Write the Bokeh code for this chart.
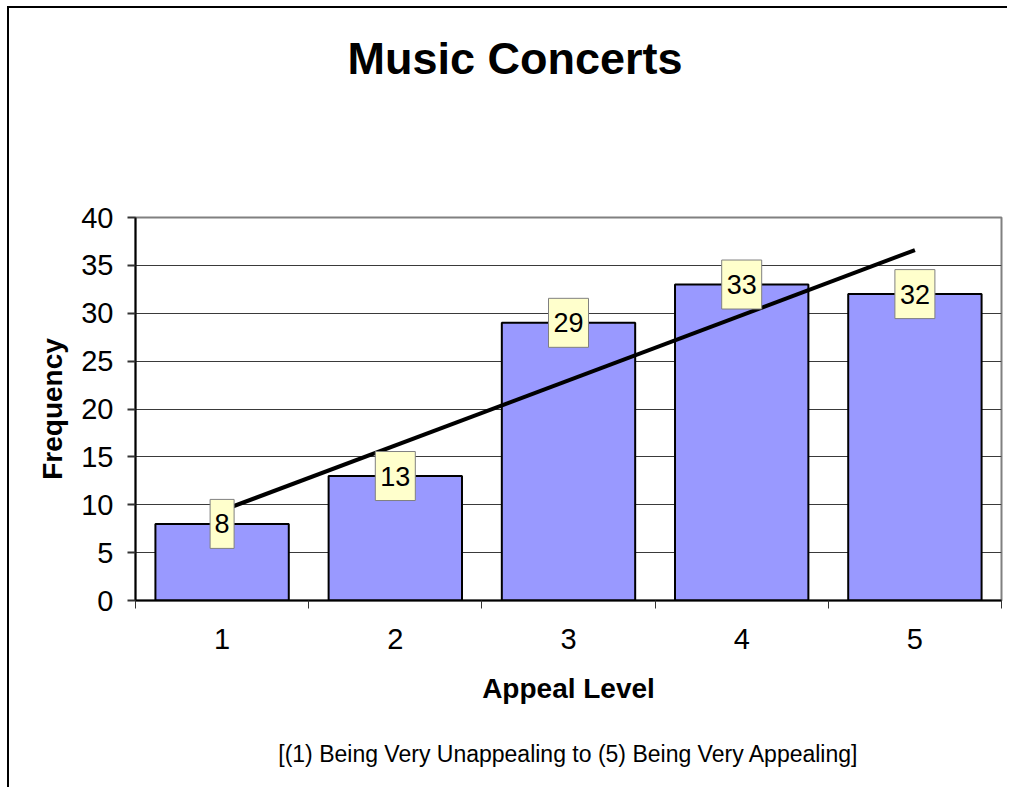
import numpy as np
from bokeh.plotting import figure
from bokeh.models import Range1d, FixedTicker, ColumnDataSource, Title, LinearAxis
from bokeh.core.properties import value
from bokeh.embed import file_html
from bokeh.resources import INLINE

# ---- data ----
appeal_levels = [1, 2, 3, 4, 5]
frequencies = [8, 13, 29, 33, 32]
x_tick_labels = ["1", "2", "3", "4", "5"]
y_ticks = [0, 5, 10, 15, 20, 25, 30, 35, 40]

title_text = "Music Concerts"
x_title = "Appeal Level"
y_title = "Frequency"
subtitle_text = "[(1) Being Very Unappealing to (5) Being Very Appealing]"

FONT = "Liberation Sans"

p = figure(width=1000, height=781, output_backend="svg", toolbar_location=None,
           x_range=Range1d(0.5, 5.5), y_range=Range1d(0, 40),
           min_border_left=126, min_border_right=8, min_border_top=209,
           min_border_bottom=189, title=None)
p.styles = {"margin-left": "7px", "margin-top": "6px",
            "border-left": "2px solid black", "border-top": "2px solid black"}
p.background_fill_color = "white"
p.border_fill_color = "white"
p.outline_line_color = "#808080"
p.outline_line_width = 2

xa = p.xaxis[0]
ya = p.yaxis[0]

# x axis: labels at category centres, tick marks at category boundaries
boundaries = [a - 0.5 for a in appeal_levels] + [appeal_levels[-1] + 0.5]
xa.ticker = FixedTicker(ticks=appeal_levels, minor_ticks=boundaries)
xa.major_label_overrides = {a: s for a, s in zip(appeal_levels, x_tick_labels)}
xa.major_tick_line_color = None
xa.major_tick_out = 8
xa.major_tick_in = 0
xa.minor_tick_out = 8
xa.minor_tick_in = 0
xa.minor_tick_line_color = "#333333"
xa.minor_tick_line_width = 1
xa.major_label_standoff = 20
xa.axis_label = x_title
xa.axis_label_standoff = 21

ya.ticker = FixedTicker(ticks=y_ticks)
ya.major_tick_out = 8
ya.major_tick_in = 0
ya.major_tick_line_width = 2
ya.major_tick_line_color = "#333333"
ya.minor_tick_line_color = None
ya.major_label_standoff = 14
ya.axis_label = y_title
ya.axis_label_standoff = 10

for ax in (xa, ya):
    ax.axis_line_color = "black"
    ax.axis_line_width = 2
    ax.major_label_text_font = FONT
    ax.major_label_text_font_size = "29px"
    ax.major_label_text_color = "black"
    ax.axis_label_text_font = FONT
    ax.axis_label_text_font_size = "28px"
    ax.axis_label_text_font_style = "bold"
    ax.axis_label_text_color = "black"


def blank_axis(**kw):
    return LinearAxis(ticker=FixedTicker(ticks=[]), axis_line_color=None,
                      major_tick_line_color=None, minor_tick_line_color=None,
                      major_tick_in=0, major_tick_out=0, minor_tick_in=0,
                      minor_tick_out=0, major_label_standoff=0, **kw)


# spacer between plot area and title, then the title itself
p.add_layout(blank_axis(axis_label=" ", axis_label_standoff=130,
                        axis_label_text_font_size="1px"), "above")
p.add_layout(Title(text=title_text, align="left", offset=212, standoff=0,
                   text_font=FONT, text_font_size="45px",
                   text_font_style="bold", text_color="black"), "above")

# subtitle as the label of a blank axis below the x axis
p.add_layout(blank_axis(axis_label=subtitle_text,
                        axis_label_standoff=34, axis_label_text_font=FONT,
                        axis_label_text_font_size="23px",
                        axis_label_text_font_style="normal",
                        axis_label_text_color="black"), "below")

p.xgrid.visible = False
p.ygrid.ticker = FixedTicker(ticks=y_ticks)
p.ygrid.grid_line_color = "#3a3a3a"
p.ygrid.grid_line_width = 1

# bars
src = ColumnDataSource(dict(
    x=appeal_levels,
    top=frequencies,
    label=[str(v) for v in frequencies],
    box_w=[8 + 16 * len(str(v)) for v in frequencies],
))
p.vbar(x="x", top="top", width=0.77, source=src,
       fill_color="#9999FF", line_color="black", line_width=2)

# linear trendline
slope, intercept = np.polyfit(appeal_levels, frequencies, 1)
tx = np.array([appeal_levels[0], appeal_levels[-1]], dtype=float)
p.line(tx, slope * tx + intercept, line_color="black", line_width=4)

# data labels
p.rect(x="x", y="top", width="box_w", height=49, width_units="screen",
       height_units="screen", source=src, fill_color="#FFFFCC",
       line_color="#808080", line_width=1)
p.text(x="x", y="top", text="label", source=src, text_align="center",
       text_baseline="middle", text_font=value(FONT), text_font_size="27px",
       text_color="black")

open("out.html", "w").write(file_html(p, INLINE))
